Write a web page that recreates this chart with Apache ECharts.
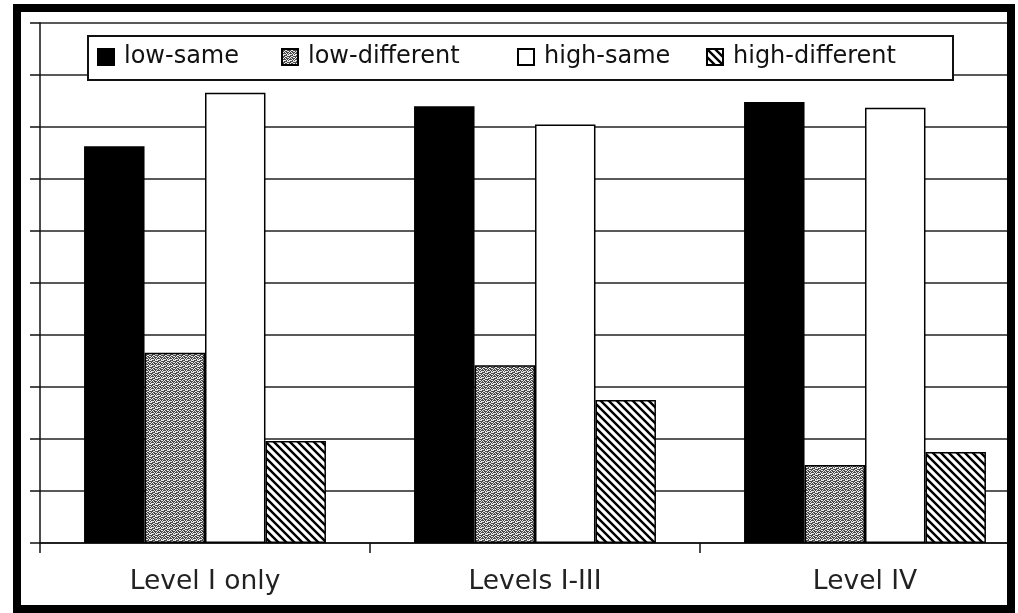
<!DOCTYPE html>
<html>
<head>
<meta charset="utf-8">
<script src="https://cdn.jsdelivr.net/npm/echarts@6/dist/echarts.min.js"></script>
<style>
html,body{margin:0;padding:0;background:#fff;overflow:hidden;width:1018px;height:613px;}
#c{width:1040px;height:613px;}
</style>
</head>
<body>
<div id="c"></div>
<script>
const categories = ['Level I only', 'Levels I-III', 'Level IV'];
const seriesNames = ['low-same', 'low-different', 'high-same', 'high-different'];
const lowSame = [7.63, 8.40, 8.48];
const lowDifferent = [3.66, 3.42, 1.50];
const highSame = [8.66, 8.05, 8.37];
const highDifferent = [1.96, 2.75, 1.75];
const yTicks = [0, 1, 2, 3, 4, 5, 6, 7, 8, 9, 10];

function stipple() {
  const c = document.createElement('canvas');
  c.width = 6; c.height = 6;
  const g = c.getContext('2d');
  g.fillStyle = '#4a4a4a';
  g.fillRect(0, 0, 6, 6);
  g.fillStyle = '#e8e8e8';
  const pts = [[0,0],[1,0],[3,1],[4,1],[0,2],[2,2],[5,2],[1,3],[3,3],[4,4],[0,4],[2,5],[5,5],[3,5],[5,0],[1,5]];
  pts.forEach(p => g.fillRect(p[0], p[1], 1, 1));
  return c;
}
function hatch() {
  const s = 8;
  const c = document.createElement('canvas');
  c.width = s; c.height = s;
  const g = c.getContext('2d');
  g.fillStyle = '#fff';
  g.fillRect(0, 0, s, s);
  g.strokeStyle = '#000';
  g.lineWidth = 2.4;
  g.beginPath();
  g.moveTo(-2, -2); g.lineTo(s + 2, s + 2);
  g.moveTo(-2, s - 2); g.lineTo(2, s + 2);
  g.moveTo(s - 2, -2); g.lineTo(s + 2, 2);
  g.stroke();
  return c;
}

const fills = [
  '#000',
  { image: stipple(), repeat: 'repeat' },
  '#fff',
  { image: hatch(), repeat: 'repeat' }
];
const values = [lowSame, lowDifferent, highSame, highDifferent];
const FONT = 'DejaVu Sans';

const chart = echarts.init(document.getElementById('c'), null, { renderer: 'canvas' });

const legendLefts = [97, 281, 517, 706];
const legends = seriesNames.map((n, i) => ({
  data: [n],
  left: legendLefts[i],
  top: 45,
  padding: 0,
  icon: 'rect',
  itemWidth: 16,
  itemHeight: 16,
  selectedMode: false,
  textStyle: { fontFamily: FONT, fontSize: 24, color: '#111', padding: [0, 0, 0, 5] }
}));

chart.setOption({
  animation: false,
  backgroundColor: '#fff',
  legend: legends,
  grid: { left: 40, top: 23, width: 990, height: 520, containLabel: false },
  xAxis: {
    type: 'category',
    data: categories,
    axisLine: { show: true, lineStyle: { color: '#111', width: 1.5 } },
    axisTick: { show: true, length: 10, lineStyle: { color: '#111', width: 1.5 } },
    axisLabel: { fontFamily: FONT, fontSize: 26.5, color: '#222', margin: 26 },
    splitLine: { show: false }
  },
  yAxis: {
    type: 'value',
    min: yTicks[0],
    max: yTicks[yTicks.length - 1],
    interval: yTicks[1] - yTicks[0],
    axisLine: { show: true, lineStyle: { color: '#111', width: 1.5 } },
    axisTick: { show: true, length: 10, lineStyle: { color: '#111', width: 1.5 } },
    axisLabel: { show: false },
    splitLine: { show: true, lineStyle: { color: '#222', width: 1.5 } }
  },
  series: seriesNames.map((n, i) => ({
    name: n,
    type: 'bar',
    data: values[i],
    barGap: '0%',
    barCategoryGap: '26.7%',
    itemStyle: { color: fills[i], borderColor: '#000', borderWidth: 1.5 }
  })),
  graphic: [
    {
      type: 'rect', z: 3,
      shape: { x: 88, y: 36, width: 865, height: 44 },
      style: { fill: '#fff', stroke: '#111', lineWidth: 2 }
    },
    {
      type: 'rect', z: 99,
      shape: { x: 1015, y: 0, width: 40, height: 613 },
      style: { fill: '#fff', stroke: 'none' }
    },
    {
      type: 'rect', z: 100,
      shape: { x: 17, y: 8, width: 994, height: 601 },
      style: { fill: 'none', stroke: '#000', lineWidth: 8 }
    }
  ]
});
</script>
</body>
</html>
